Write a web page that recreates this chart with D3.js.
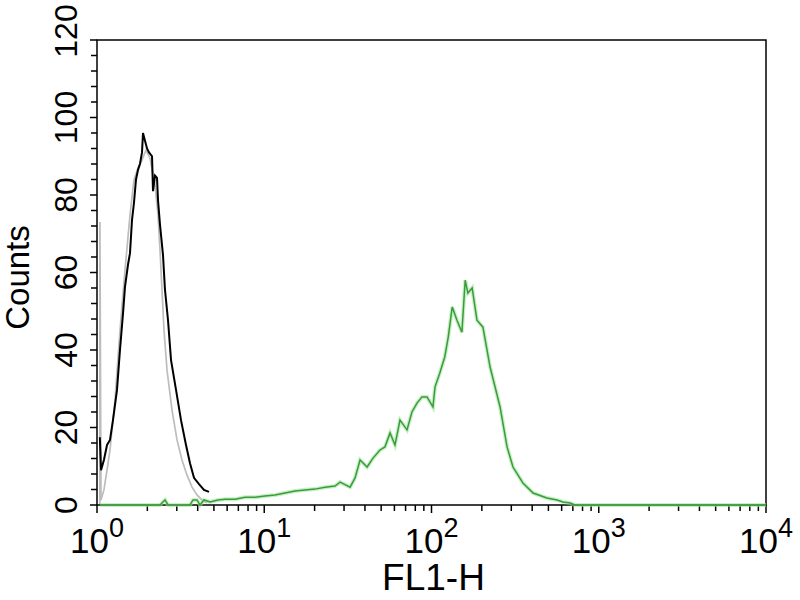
<!DOCTYPE html>
<html>
<head>
<meta charset="utf-8">
<script src="https://cdn.jsdelivr.net/npm/d3@7"></script>
<style>
  body { margin: 0; background: #fff; }
  text { font-family: "Liberation Sans", Arial, sans-serif; fill: #000; }
</style>
</head>
<body>
<div class="svg"></div>
<script>
// FL1-H values (log axis) and counts
var blackFL = [1.04, 1.057, 1.10, 1.148, 1.196, 1.246, 1.317, 1.372, 1.431, 1.47, 1.532, 1.575, 1.619, 1.664, 1.711, 1.759, 1.807, 1.858, 1.884, 1.936, 1.991, 2.046, 2.133, 2.162, 2.223, 2.285, 2.316, 2.381, 2.481, 2.55, 2.658, 2.771, 2.968, 3.179, 3.405, 3.598, 3.802, 4.073, 4.363, 4.674];
var blackCounts = [17.5, 9, 11.6, 15.5, 16.8, 21.9, 29.7, 40, 49.5, 56.3, 62, 65, 73.5, 78, 84, 86.5, 88, 91, 96, 94, 92, 91, 90, 81, 85, 84.4, 78.7, 72.3, 64.5, 55.5, 47.7, 37.4, 29.7, 21.9, 15.5, 10.8, 7, 5.4, 3.9, 3.4];

var grayFL = [1.04, 1.041, 1.057, 1.10, 1.148, 1.196, 1.281, 1.372, 1.47, 1.575, 1.664, 1.759, 1.858, 1.963, 2.074, 2.223, 2.316, 2.381, 2.447, 2.516, 2.622, 2.809, 3.009, 3.223, 3.452, 3.699, 3.962, 4.244, 4.547];
var grayCounts = [0, 73, 1.3, 3.9, 9, 14.2, 27, 45, 60.6, 74.8, 83.9, 87, 89, 91.6, 89.5, 82.6, 74.8, 65.8, 55.5, 45, 34.8, 24.5, 16.8, 11.6, 7.7, 4.6, 2.6, 1.3, 0.5];

var greenFL = [1.04, 2.38, 2.55, 2.66, 3.6, 3.75, 3.96, 4.13, 4.36, 4.74, 5.29, 5.83, 6.69, 7.67, 8.8, 10.1, 11.6, 13.3, 15.3, 17.5, 20.1, 23.1, 26.5, 28.4, 32.6, 34.9, 37.4, 41.2, 44.7, 49.2, 52.7, 56.5, 60.5, 64.8, 71.4, 76.4, 81.9, 87.7, 94, 102, 105, 112, 120, 126, 133, 142, 152, 159, 165, 175, 187, 203, 224, 257, 283, 307, 352, 405, 490, 563, 611, 673, 721, 10000];
var greenCounts = [0, 0, 1.3, 0, 0, 1.3, 1.3, 0, 1.3, 0.8, 1.3, 1.5, 1.5, 2, 2, 2.3, 2.6, 3.1, 3.6, 3.9, 4.1, 4.6, 4.9, 5.9, 4.6, 7, 11.6, 9.8, 12.1, 14.2, 15, 18.6, 15.5, 21.9, 19.4, 24, 26.3, 27.9, 27.9, 25.3, 30.5, 34, 38.2, 43.4, 51.1, 47.7, 44.6, 58, 54.7, 56, 47.7, 45.9, 35.6, 25.3, 15, 9.8, 5.7, 3.1, 1.8, 1.3, 0.8, 0.5, 0, 0];

var yTicks = [0, 20, 40, 60, 80, 100, 120];
var xTicks = [1, 10, 100, 1000, 10000];
var xExps = ["0", "1", "2", "3", "4"];

var width = 800, height = 600;
var mLeft = 97, mRight = 766, mTop = 40, mBottom = 505;

var svg = d3.select(".svg").append("svg")
    .attr("width", width)
    .attr("height", height);

var x = d3.scaleLog().domain([1, 10000]).range([mLeft, mRight]);
var y = d3.scaleLinear().domain([0, 120]).range([mBottom, mTop]);

function zip(a, b) {
    return a.map(function (d, i) { return [d, b[i]]; });
}

var line = d3.line()
    .x(function (d) { return x(d[0]); })
    .y(function (d) { return y(d[1]); });

// y ticks (minor every 4)
svg.append("g").selectAll("line")
    .data(d3.range(0, 121, 4))
    .enter().append("line")
    .attr("x1", function (d) { return d % 20 === 0 ? mLeft - 7 : mLeft - 6; })
    .attr("x2", mLeft)
    .attr("y1", function (d) { return y(d); })
    .attr("y2", function (d) { return y(d); })
    .attr("stroke", "#000")
    .attr("stroke-width", 1.5);

svg.append("g").selectAll("text")
    .data(yTicks)
    .enter().append("text")
    .attr("transform", function (d) {
        var yy = y(d) + (d === 120 ? -9 : 0);
        return "translate(77," + yy + ") rotate(-90)";
    })
    .attr("text-anchor", "middle")
    .attr("font-size", 32)
    .text(function (d) { return d; });

// x ticks, log minor
var minor = [];
for (var k = 0; k < 4; k++) {
    for (var m = 1; m < 10; m++) minor.push(m * Math.pow(10, k));
}
minor.push(10000);
svg.append("g").selectAll("line")
    .data(minor)
    .enter().append("line")
    .attr("x1", function (d) { return x(d); })
    .attr("x2", function (d) { return x(d); })
    .attr("y1", mBottom)
    .attr("y2", function (d) { return xTicks.indexOf(d) >= 0 ? mBottom + 8 : mBottom + 6; })
    .attr("stroke", "#000")
    .attr("stroke-width", 1.5);

var xl = svg.append("g").selectAll("text")
    .data(xTicks)
    .enter().append("text")
    .attr("x", function (d) { return x(d); })
    .attr("y", 553)
    .attr("text-anchor", "middle")
    .attr("font-size", 35);
xl.append("tspan").text("10");
xl.append("tspan")
    .attr("dy", -16)
    .attr("font-size", 27)
    .text(function (d, i) { return xExps[i]; });

svg.append("text")
    .attr("x", (mLeft + mRight) / 2 + 2)
    .attr("y", 590)
    .attr("text-anchor", "middle")
    .attr("font-size", 37)
    .text("FL1-H");

svg.append("text")
    .attr("transform", "translate(29," + ((mTop + mBottom) / 2 + 5) + ") rotate(-90)")
    .attr("text-anchor", "middle")
    .attr("font-size", 33)
    .text("Counts");

// histograms
svg.append("path")
    .datum(zip(grayFL, grayCounts))
    .attr("d", line)
    .attr("fill", "none")
    .attr("stroke", "#bdbdbd")
    .attr("stroke-width", 1.7);

svg.append("path")
    .datum(zip(blackFL, blackCounts))
    .attr("d", line)
    .attr("fill", "none")
    .attr("stroke", "#000")
    .attr("stroke-width", 2);

// frame
svg.append("rect")
    .attr("x", mLeft)
    .attr("y", mTop)
    .attr("width", mRight - mLeft)
    .attr("height", mBottom - mTop)
    .attr("fill", "none")
    .attr("stroke", "#000")
    .attr("stroke-width", 1.5);

var greenData = zip(greenFL, greenCounts);
svg.append("path")
    .datum(greenData)
    .attr("d", line)
    .attr("fill", "none")
    .attr("stroke", "#9fe89f")
    .attr("stroke-opacity", 0.6)
    .attr("stroke-width", 4);
svg.append("path")
    .datum(greenData)
    .attr("d", line)
    .attr("fill", "none")
    .attr("stroke", "#3c9a3c")
    .attr("stroke-width", 1.5);
</script>
</body>
</html>
